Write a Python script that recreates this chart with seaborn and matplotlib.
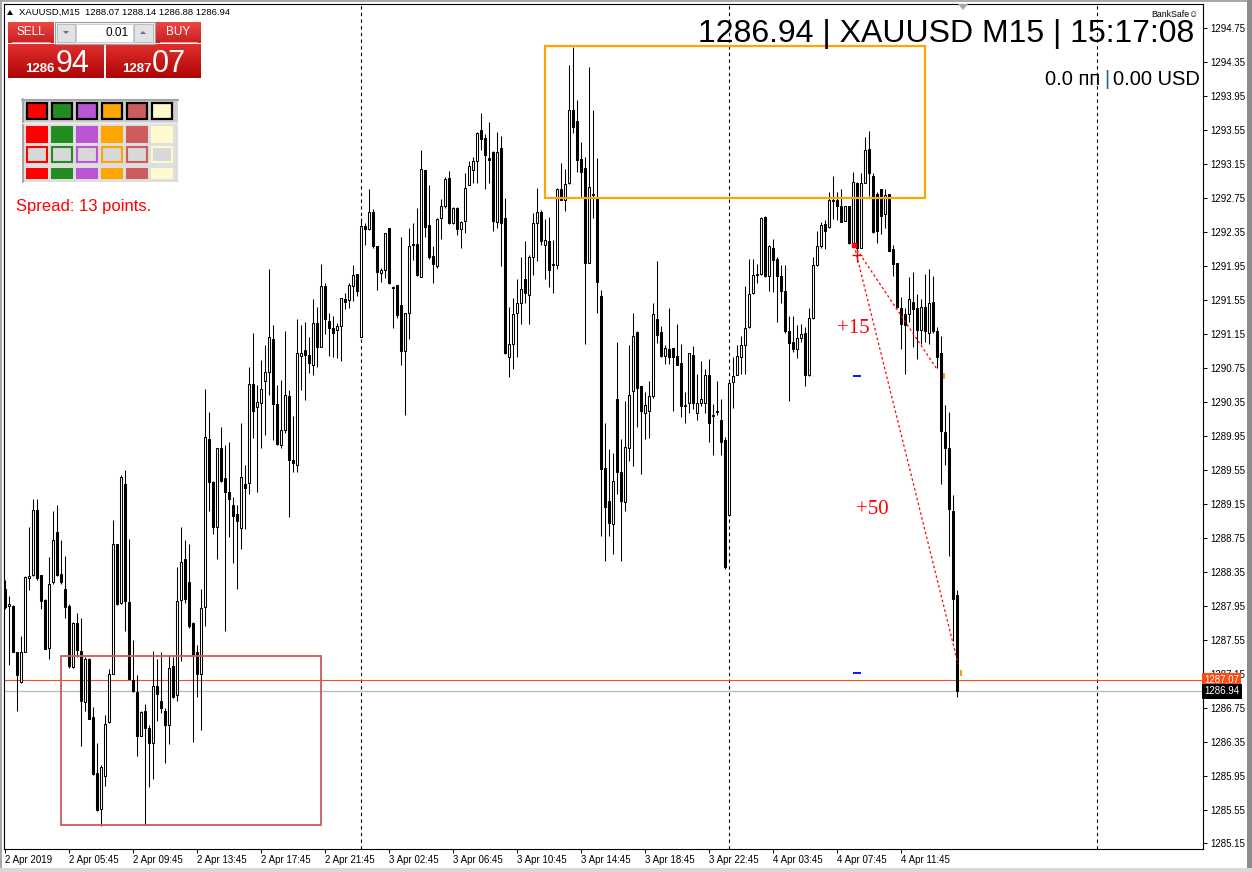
import numpy as np
import pandas as pd
import matplotlib
matplotlib.use("Agg")
import matplotlib.pyplot as plt
import seaborn as sns
from matplotlib.patches import Rectangle, Polygon
from matplotlib.transforms import Affine2D, blended_transform_factory
from matplotlib.colors import LinearSegmentedColormap

# ---------------- data (XAUUSD M15) ----------------
opens = [
    1288.15, 1287.95, 1287.95, 1287.41, 1287.05, 1287.40, 1288.27, 1288.31, 1289.08, 1288.31,
    1288.02, 1287.45, 1288.23, 1288.82, 1288.32, 1288.15, 1287.95, 1287.23, 1287.75, 1287.42,
    1286.82, 1287.32, 1286.64, 1285.98, 1285.56, 1285.95, 1286.58, 1287.14, 1288.68, 1287.98,
    1289.38, 1287.99, 1287.08, 1286.93, 1286.42, 1286.71, 1286.51, 1286.33, 1287.00, 1286.83,
    1286.71, 1286.54, 1287.24, 1286.90, 1288.02, 1288.50, 1288.23, 1287.75, 1287.41, 1287.15,
    1287.93, 1289.91, 1289.41, 1288.87, 1289.80, 1289.45, 1289.29, 1289.13, 1289.03, 1288.86,
    1289.38, 1289.39, 1290.56, 1290.29, 1290.34, 1290.59, 1290.70, 1291.09, 1290.32, 1289.84,
    1290.02, 1290.42, 1289.67, 1289.61, 1290.89, 1290.96, 1290.90, 1290.78, 1291.28, 1291.00,
    1291.71, 1291.30, 1291.22, 1291.19, 1291.24, 1291.56, 1291.55, 1291.71, 1291.85, 1291.11,
    1292.42, 1292.38, 1292.58, 1292.18, 1291.87, 1291.90, 1292.40, 1291.70, 1291.72, 1291.49,
    1290.95, 1291.39, 1292.21, 1292.21, 1291.82, 1293.08, 1292.43, 1292.07, 1291.95, 1292.51,
    1292.65, 1292.98, 1292.46, 1292.63, 1292.38, 1292.48, 1292.90, 1293.08, 1293.18, 1293.55,
    1293.46, 1293.22, 1293.29, 1292.47, 1293.34, 1292.51, 1290.88, 1291.03, 1291.39, 1291.51,
    1291.79, 1291.61, 1292.05, 1292.45, 1292.59, 1292.20, 1292.24, 1291.96, 1291.96, 1292.86,
    1292.73, 1292.92, 1293.78, 1293.65, 1293.21, 1293.10, 1291.98, 1292.79, 1292.76, 1291.59,
    1289.57, 1289.18, 1288.91, 1290.38, 1289.52, 1289.17, 1289.81, 1290.48, 1291.17, 1290.53,
    1290.22, 1290.24, 1290.42, 1291.32, 1291.17, 1290.89, 1290.97, 1290.98, 1290.89, 1290.81,
    1290.30, 1290.34, 1290.90, 1290.22, 1290.33, 1290.33, 1290.67, 1290.18, 1290.23, 1290.14,
    1289.90, 1289.02, 1290.58, 1290.66, 1290.88, 1291.02, 1291.23, 1291.63, 1291.84, 1291.85,
    1292.53, 1291.83, 1292.16, 1292.03, 1291.83, 1291.66, 1291.18, 1291.05, 1290.97, 1291.10,
    1291.16, 1290.66, 1291.34, 1291.96, 1292.18, 1292.44, 1292.41, 1292.71, 1292.72, 1292.65,
    1292.48, 1292.66, 1292.21, 1292.93, 1292.16, 1292.92, 1293.33, 1293.01, 1292.80, 1292.85,
    1292.56, 1292.80, 1292.15, 1291.98, 1291.45, 1291.38, 1291.38, 1291.53, 1291.45, 1291.19,
    1291.46, 1291.16, 1291.52, 1291.18, 1290.92, 1290.00, 1289.81, 1289.06, 1288.07,
]
highs = [
    1288.25, 1288.06, 1287.96, 1287.41, 1287.59, 1288.30, 1288.87, 1289.20, 1289.20, 1288.31,
    1288.03, 1288.52, 1289.06, 1289.13, 1288.72, 1288.54, 1287.97, 1287.76, 1287.86, 1287.81,
    1287.35, 1287.33, 1286.76, 1286.33, 1286.07, 1286.66, 1287.20, 1288.96, 1288.68, 1289.49,
    1289.55, 1288.73, 1287.54, 1287.13, 1286.71, 1286.79, 1286.54, 1287.42, 1287.32, 1287.40,
    1286.74, 1287.37, 1287.35, 1288.40, 1288.87, 1288.72, 1288.67, 1287.76, 1287.49, 1288.15,
    1290.50, 1290.23, 1289.42, 1289.81, 1290.05, 1289.84, 1289.88, 1289.23, 1289.13, 1290.10,
    1289.61, 1290.76, 1291.16, 1290.55, 1290.84, 1291.02, 1291.91, 1291.25, 1290.55, 1290.61,
    1291.18, 1290.49, 1290.18, 1291.33, 1291.25, 1291.29, 1291.11, 1291.56, 1291.47, 1291.97,
    1291.75, 1291.39, 1291.36, 1291.28, 1291.57, 1291.63, 1291.75, 1291.96, 1291.86, 1292.51,
    1292.46, 1292.86, 1292.62, 1292.18, 1291.93, 1292.34, 1292.40, 1291.71, 1291.72, 1292.29,
    1291.39, 1292.40, 1292.46, 1292.63, 1293.32, 1293.08, 1292.90, 1292.18, 1292.51, 1292.74,
    1293.00, 1293.07, 1292.64, 1292.64, 1292.48, 1293.04, 1293.18, 1293.23, 1293.53, 1293.75,
    1293.50, 1293.64, 1293.30, 1293.53, 1293.48, 1292.75, 1291.47, 1291.57, 1291.79, 1292.06,
    1292.24, 1292.08, 1292.57, 1292.87, 1292.61, 1292.50, 1292.52, 1292.25, 1292.87, 1293.16,
    1293.09, 1294.32, 1294.53, 1293.90, 1293.41, 1293.23, 1294.29, 1293.79, 1293.22, 1291.67,
    1290.10, 1289.79, 1289.75, 1291.05, 1289.91, 1290.36, 1291.02, 1291.40, 1291.18, 1290.53,
    1290.46, 1290.60, 1291.51, 1292.01, 1291.24, 1291.02, 1291.45, 1290.98, 1291.26, 1291.03,
    1290.46, 1290.92, 1291.01, 1290.68, 1290.83, 1290.74, 1290.85, 1290.32, 1290.59, 1290.38,
    1289.93, 1290.57, 1290.88, 1291.02, 1291.12, 1291.71, 1292.03, 1292.03, 1291.97, 1292.53,
    1292.54, 1292.19, 1292.27, 1292.05, 1291.96, 1291.96, 1291.36, 1291.36, 1291.25, 1291.27,
    1291.23, 1291.45, 1292.05, 1292.36, 1292.47, 1292.49, 1292.82, 1293.01, 1292.82, 1292.85,
    1292.65, 1292.66, 1293.06, 1292.94, 1293.04, 1293.47, 1293.54, 1293.04, 1292.82, 1292.85,
    1292.85, 1292.80, 1292.19, 1291.98, 1291.58, 1291.45, 1291.82, 1291.88, 1291.62, 1291.56,
    1291.85, 1291.91, 1291.83, 1291.23, 1291.12, 1290.31, 1290.23, 1289.25, 1288.14,
]
lows = [
    1287.91, 1287.25, 1287.40, 1286.71, 1287.04, 1287.40, 1288.13, 1288.30, 1288.25, 1287.91,
    1287.44, 1287.32, 1288.20, 1288.30, 1288.20, 1287.81, 1287.22, 1287.22, 1287.35, 1286.30,
    1286.71, 1286.61, 1285.96, 1285.53, 1285.36, 1285.83, 1286.57, 1287.14, 1287.96, 1287.97,
    1287.65, 1287.09, 1286.93, 1286.18, 1286.41, 1285.37, 1285.81, 1285.91, 1286.59, 1286.69,
    1286.10, 1286.32, 1286.86, 1286.83, 1287.30, 1287.98, 1287.69, 1286.35, 1286.88, 1286.49,
    1287.71, 1289.07, 1288.79, 1288.50, 1289.40, 1287.65, 1288.76, 1288.45, 1288.15, 1288.62,
    1288.85, 1289.26, 1289.92, 1289.29, 1289.80, 1289.96, 1290.43, 1289.90, 1289.84, 1289.80,
    1289.98, 1288.99, 1289.52, 1289.52, 1290.49, 1290.37, 1290.69, 1290.66, 1290.76, 1290.99,
    1291.15, 1290.89, 1290.88, 1290.87, 1290.83, 1291.44, 1291.45, 1291.54, 1291.60, 1291.11,
    1292.19, 1292.37, 1292.16, 1291.67, 1291.76, 1291.81, 1291.74, 1291.22, 1291.34, 1290.78,
    1290.20, 1291.09, 1292.02, 1291.83, 1291.82, 1292.29, 1292.03, 1291.75, 1291.92, 1292.27,
    1292.63, 1292.44, 1292.44, 1292.31, 1292.16, 1292.34, 1292.90, 1292.93, 1292.93, 1293.31,
    1292.86, 1292.92, 1292.36, 1292.40, 1291.95, 1290.91, 1290.64, 1290.74, 1290.88, 1291.27,
    1291.51, 1291.26, 1291.84, 1292.01, 1292.20, 1291.79, 1291.70, 1291.63, 1291.91, 1292.73,
    1292.60, 1292.91, 1293.52, 1293.06, 1292.75, 1291.03, 1291.98, 1292.51, 1291.39, 1288.77,
    1288.47, 1288.77, 1288.56, 1289.27, 1288.47, 1289.07, 1289.65, 1289.59, 1290.05, 1289.50,
    1289.91, 1289.92, 1290.40, 1291.04, 1290.88, 1290.80, 1290.80, 1290.24, 1290.78, 1290.17,
    1290.10, 1290.22, 1290.27, 1290.14, 1290.30, 1290.22, 1289.88, 1289.72, 1290.20, 1289.72,
    1288.38, 1289.01, 1290.28, 1290.66, 1290.68, 1290.68, 1291.22, 1291.62, 1291.75, 1291.84,
    1291.82, 1291.66, 1291.64, 1291.29, 1291.51, 1291.16, 1290.36, 1290.94, 1290.86, 1291.05,
    1290.54, 1290.65, 1291.32, 1291.95, 1292.16, 1292.15, 1292.40, 1292.50, 1292.49, 1292.47,
    1292.48, 1292.21, 1292.19, 1291.99, 1292.16, 1292.92, 1292.77, 1292.34, 1292.22, 1292.32,
    1292.40, 1292.13, 1291.83, 1291.45, 1290.97, 1290.68, 1291.29, 1290.99, 1290.85, 1291.03,
    1291.05, 1291.03, 1291.16, 1290.75, 1289.38, 1289.60, 1288.53, 1287.53, 1286.88,
]
closes = [
    1287.93, 1287.97, 1287.41, 1287.13, 1287.41, 1288.29, 1288.30, 1289.08, 1288.28, 1288.00,
    1287.44, 1288.20, 1288.72, 1288.31, 1288.23, 1287.93, 1287.24, 1287.75, 1287.43, 1286.83,
    1287.32, 1286.62, 1285.97, 1285.54, 1286.05, 1286.56, 1287.14, 1288.68, 1287.97, 1289.47,
    1288.01, 1287.09, 1286.95, 1286.42, 1286.70, 1286.51, 1286.33, 1287.00, 1286.91, 1286.74,
    1286.54, 1287.22, 1286.88, 1288.01, 1288.46, 1288.03, 1287.71, 1287.37, 1287.14, 1287.92,
    1289.94, 1289.41, 1288.87, 1289.81, 1289.42, 1289.29, 1289.20, 1289.00, 1288.95, 1289.46,
    1289.34, 1290.56, 1290.24, 1290.35, 1290.50, 1290.70, 1291.11, 1290.32, 1289.85, 1290.02,
    1290.43, 1289.67, 1289.63, 1290.92, 1290.93, 1290.90, 1290.81, 1291.28, 1290.99, 1291.71,
    1291.33, 1291.22, 1291.16, 1291.24, 1291.57, 1291.53, 1291.73, 1291.84, 1291.65, 1292.42,
    1292.38, 1292.58, 1292.18, 1291.88, 1291.90, 1292.34, 1291.75, 1291.69, 1291.37, 1290.95,
    1291.39, 1292.18, 1292.19, 1291.84, 1293.09, 1292.41, 1292.05, 1291.97, 1292.50, 1292.65,
    1292.97, 1292.45, 1292.63, 1292.38, 1292.47, 1292.87, 1293.12, 1293.18, 1293.52, 1293.44,
    1293.26, 1293.20, 1292.48, 1293.29, 1292.46, 1290.92, 1291.03, 1291.38, 1291.51, 1291.68,
    1291.63, 1292.06, 1292.45, 1292.59, 1292.24, 1292.25, 1291.90, 1291.96, 1292.86, 1292.73,
    1292.91, 1293.78, 1293.58, 1293.20, 1293.06, 1291.98, 1292.88, 1292.80, 1291.76, 1289.56,
    1289.11, 1288.92, 1289.42, 1289.52, 1289.18, 1289.82, 1290.43, 1291.12, 1290.51, 1290.24,
    1290.31, 1290.42, 1291.38, 1291.14, 1290.89, 1290.98, 1290.88, 1290.88, 1290.78, 1290.30,
    1290.30, 1290.92, 1290.33, 1290.33, 1290.38, 1290.67, 1290.10, 1290.20, 1290.23, 1289.88,
    1288.40, 1290.57, 1290.65, 1290.89, 1291.02, 1291.22, 1291.62, 1291.84, 1291.84, 1292.51,
    1291.83, 1292.18, 1292.02, 1291.83, 1291.66, 1291.18, 1291.04, 1290.97, 1291.10, 1291.15,
    1290.66, 1291.34, 1291.96, 1292.18, 1292.43, 1292.36, 1292.72, 1292.73, 1292.65, 1292.47,
    1292.65, 1292.22, 1292.94, 1292.16, 1292.92, 1293.32, 1293.04, 1292.35, 1292.36, 1292.54,
    1292.78, 1292.13, 1291.97, 1291.46, 1291.27, 1291.25, 1291.56, 1291.44, 1291.19, 1291.46,
    1291.18, 1291.51, 1291.18, 1290.88, 1290.01, 1289.81, 1289.09, 1288.03, 1286.94,
]

time_labels = ["2 Apr 2019", "2 Apr 05:45", "2 Apr 09:45", "2 Apr 13:45", "2 Apr 17:45",
               "2 Apr 21:45", "3 Apr 02:45", "3 Apr 06:45", "3 Apr 10:45", "3 Apr 14:45",
               "3 Apr 18:45", "3 Apr 22:45", "4 Apr 03:45", "4 Apr 07:45", "4 Apr 11:45"]
time_label_bars = [0, 16, 32, 48, 64, 80, 96, 112, 128, 144, 160, 176, 192, 208, 224]
day_separator_bars = [89, 181, 273]
price_ticks = [1294.75, 1294.35, 1293.95, 1293.55, 1293.15, 1292.75, 1292.35, 1291.95,
               1291.55, 1291.15, 1290.75, 1290.35, 1289.95, 1289.55, 1289.15, 1288.75,
               1288.35, 1287.95, 1287.55, 1287.15, 1286.75, 1286.35, 1285.95, 1285.55,
               1285.15]
bid_price = 1286.94
ask_price = 1287.07
resistance_zone = [135, 230, 1292.75, 1294.54]   # bar from, bar to, price low, price high
support_zone = [14, 79, 1285.37, 1287.36]
trend_start = [212.3, 1292.19]
trend_end_15 = [232.9, 1290.74]
trend_end_50 = [238.3, 1287.26]
target_marks_x = [213, 213]
target_marks_y = [1290.65, 1287.16]
palette_colors = ["#FF0000", "#228B22", "#BA55D3", "#FFA500", "#CD5C5C", "#FFFACD"]

# ---------------- figure ----------------
sns.set_theme(style="white")
plt.rcParams['font.family'] = ['Liberation Sans', 'DejaVu Sans']

W, H = 1252, 872
fig = plt.figure(figsize=(W / 100, H / 100), dpi=100)
fig.patch.set_facecolor('white')
PX = Affine2D().scale(1, -1).translate(0, H)   # pixel coords, origin top-left

ax = fig.add_axes([4 / W, 1 - 849 / H, 1199 / W, 845 / H])
ax.set_facecolor('white')
ax.set_xlim(-0.25, 299.5)
ax.set_ylim(1285.085, 1295.033)

df = pd.DataFrame({'open': opens, 'high': highs, 'low': lows, 'close': closes})
df['bar'] = np.arange(len(df))
df['top'] = df[['open', 'close']].max(axis=1)
df['bottom'] = df[['open', 'close']].min(axis=1)
df['high'] = df[['high', 'top']].max(axis=1)
df['low'] = df[['low', 'bottom']].min(axis=1)
df['up'] = df['close'] >= df['open']

ax.vlines(df['bar'], df['low'], df['high'], color='black', lw=0.75, zorder=2)
heights = np.maximum(df['top'] - df['bottom'], 0.012)
ax.bar(df['bar'], heights, bottom=df['bottom'], width=0.55,
       color=np.where(df['up'], 'white', 'black'), edgecolor='black',
       linewidth=0.75, zorder=3)

# day separators
for b in day_separator_bars:
    ax.axvline(b, color='black', lw=0.8, ls=(0, (3, 3)), zorder=1)

# zones
ax.add_patch(Rectangle((resistance_zone[0], resistance_zone[2]),
                       resistance_zone[1] - resistance_zone[0],
                       resistance_zone[3] - resistance_zone[2],
                       fill=False, edgecolor='#FFA500', lw=1.6, zorder=4))
ax.add_patch(Rectangle((support_zone[0], support_zone[2]),
                       support_zone[1] - support_zone[0],
                       support_zone[3] - support_zone[2],
                       fill=False, edgecolor='#CD5C5C', lw=1.3, zorder=4))

# bid / ask lines
ax.axhline(ask_price, color='#F0501E', lw=0.8, zorder=1.5)
ax.axhline(bid_price, color='#BDBDBD', lw=1.0, zorder=1.5)

# trend lines and labels
for end in (trend_end_15, trend_end_50):
    ax.plot([trend_start[0], end[0]], [trend_start[1], end[1]],
            color='red', lw=0.9, ls=(0, (2, 2)), zorder=5)
ax.plot([trend_start[0]], [trend_start[1]], marker='s', ms=2.5, color='red', zorder=6)
ax.plot([213.0], [1292.08], marker='+', ms=7, mew=1.0, color='red', zorder=6)
sns.scatterplot(x=target_marks_x, y=target_marks_y, marker='_', color='blue',
                s=28, linewidth=1.3, ax=ax, zorder=6, legend=False)
ax.plot([234.75, 238.9], [1290.65, 1287.16], ls='none', marker='|', ms=4,
        mew=1.5, color='#E8A317', zorder=6)
ax.text(212.0, 1291.21, "+15", color='red', fontsize=15, family='Liberation Serif',
        ha='center', va='center', zorder=6)
ax.text(216.75, 1289.08, "+50", color='red', fontsize=15, family='Liberation Serif',
        ha='center', va='center', zorder=6)

# axes styling
for s in ax.spines.values():
    s.set_color('black')
    s.set_linewidth(0.8)
ax.grid(False)
ax.set_yticks(price_ticks)
ax.set_yticklabels([f"{v:.2f}" for v in price_ticks])
ax.yaxis.set_ticks_position('right')
ax.tick_params(axis='y', which='both', direction='out', length=3, width=0.7, pad=2.5,
               labelsize=7, colors='black', left=False, right=True,
               labelleft=False, labelright=True)
ax.set_xticks(time_label_bars)
ax.set_xticklabels(time_labels)
ax.tick_params(axis='x', direction='out', length=3, width=0.7, pad=1.5,
               labelsize=7, colors='black', bottom=True, top=False)
for lab in ax.get_xticklabels():
    lab.set_ha('left')

# price labels on the right axis
bt = blended_transform_factory(ax.transAxes, ax.transData)
ax.text(1.0012, ask_price, "1287.07", transform=bt, color='white', fontsize=7,
        ha='left', va='center', zorder=10, clip_on=False,
        bbox=dict(boxstyle='square,pad=0.22', fc='#FF4A12', ec='none'))
ax.text(1.0012, bid_price, "1286.94", transform=bt, color='white', fontsize=7,
        ha='left', va='center', zorder=10, clip_on=False,
        bbox=dict(boxstyle='square,pad=0.22', fc='black', ec='none'))

# ---------------- overlay widgets (pixel coordinates) ----------------
def rect(x0, y0, x1, y1, **kw):
    fig.add_artist(Rectangle((x0, y0), x1 - x0, y1 - y0, transform=PX, **kw))

def grad_box(x0, y0, x1, y1, c_top, c_bot):
    a = fig.add_axes([x0 / W, 1 - y1 / H, (x1 - x0) / W, (y1 - y0) / H])
    cmap = LinearSegmentedColormap.from_list('g', [c_top, c_bot])
    a.imshow(np.linspace(0, 1, 64).reshape(-1, 1), aspect='auto', cmap=cmap,
             extent=[0, 1, 0, 1])
    a.set_axis_off()

def ftext(x, y, s, **kw):
    return fig.text(x, y, s, transform=PX, **kw)

# window borders
rect(0, 0, 2, H, facecolor='#A8A8A8', edgecolor='none')
rect(0, 0, W, 1.5, facecolor='#A8A8A8', edgecolor='none')
rect(1247, 0, W, H, facecolor='#8C8C8C', edgecolor='none')
rect(0, 868, W, H, facecolor='#D8D8D8', edgecolor='none')

# header line
fig.add_artist(Polygon([(7, 15), (13, 15), (10, 10)], closed=True, transform=PX,
                       facecolor='black', edgecolor='none'))
ftext(19, 12.5, "XAUUSD,M15  1288.07 1288.14 1286.88 1286.94", fontsize=6.8,
      va='center', ha='left', color='black')

# SELL / BUY panel
grad_box(8, 22, 54, 43, '#EE4A44', '#C81E22')
grad_box(156, 22, 201, 43, '#EE4A44', '#C81E22')
fig.add_artist(plt.Line2D([12, 50], [42, 42], transform=PX, color='#F39A96', lw=0.8))
fig.add_artist(plt.Line2D([160, 197], [42, 42], transform=PX, color='#F39A96', lw=0.8))
ftext(31, 32, "SELL", color='white', fontsize=8.5, ha='center', va='center')
ftext(178.5, 32, "BUY", color='white', fontsize=8.5, ha='center', va='center')
rect(55, 22, 155, 44, facecolor='#F0F0F0', edgecolor='#A0A0A0', lw=0.8)
rect(57, 24, 75, 42, facecolor='#E2E2E2', edgecolor='#B4B4B4', lw=0.6)
rect(76, 24, 133, 42, facecolor='white', edgecolor='#C8C8C8', lw=0.6)
rect(134, 24, 153, 42, facecolor='#E2E2E2', edgecolor='#B4B4B4', lw=0.6)
fig.add_artist(Polygon([(63, 31), (69, 31), (66, 34)], closed=True, transform=PX,
                       facecolor='#5570A8', edgecolor='none'))
fig.add_artist(Polygon([(140, 34), (146, 34), (143, 31)], closed=True, transform=PX,
                       facecolor='#5570A8', edgecolor='none'))
ftext(129, 32.5, "0.01", color='black', fontsize=8.5, ha='right', va='center')

grad_box(8, 44, 104, 78, '#E23030', '#B00404')
grad_box(106, 44, 201, 78, '#E23030', '#B00404')
ftext(25, 72, "1286", color='white', fontsize=9.5, fontweight='bold', ha='left',
      va='baseline')
ftext(56, 72, "94", color='white', fontsize=22, ha='left', va='baseline')
ftext(122, 72, "1287", color='white', fontsize=9.5, fontweight='bold', ha='left',
      va='baseline')
ftext(152, 72, "07", color='white', fontsize=22, ha='left', va='baseline')

# colour palette panel
rect(22, 99, 178, 182, facecolor='#DEDEDE', edgecolor='none')
rect(22, 99, 178, 122, facecolor='#CFCFCF', edgecolor='none')
fig.add_artist(plt.Line2D([22, 178], [99.5, 99.5], transform=PX, color='#A4A4A4', lw=1.5))
fig.add_artist(plt.Line2D([22.5, 22.5], [99, 182], transform=PX, color='#A4A4A4', lw=1.5))
fig.add_artist(plt.Line2D([22, 178], [123, 123], transform=PX, color='#EDEDED', lw=1.0))
for k, c in enumerate(palette_colors):
    x0 = 27 + 25 * k
    rect(x0, 103, x0 + 20, 119, facecolor=c, edgecolor='black', lw=1.6)
    rect(x0 - 1, 126, x0 + 21, 143, facecolor=c, edgecolor='none')
    rect(x0, 147, x0 + 20, 162, facecolor='#D8D8D8', edgecolor=c, lw=1.5)
    rect(x0 - 1, 168, x0 + 21, 179, facecolor=c, edgecolor='none')

ftext(16, 206, "Spread: 13 points.", color='red', fontsize=12, ha='left', va='center')

# top-right info
ftext(1194, 42, "1286.94 | XAUUSD M15 | 15:17:08", color='black', fontsize=23,
      ha='right', va='baseline')
ftext(1198, 17, "BankSafe\u263A", color='black', fontsize=6.3, ha='right',
      va='baseline', family=['Liberation Sans', 'DejaVu Sans'])
fig.add_artist(Polygon([(958, 4), (968, 4), (963, 10)], closed=True, transform=PX,
                       facecolor='#A8A8A8', edgecolor='none'))

renderer = fig.canvas.get_renderer()
t_usd = ftext(1200, 84.5, "0.00 USD", color='black', fontsize=14.5, ha='right',
              va='baseline')
bb = t_usd.get_window_extent(renderer)
t_bar = ftext(bb.x0 - 4, 84.5, "|", color='#1C5FA8', fontsize=14.5, ha='right',
              va='baseline')
bb2 = t_bar.get_window_extent(renderer)
ftext(bb2.x0 - 4, 84.5, "0.0 пп", color='black', fontsize=14.5, ha='right',
      va='baseline')

fig.savefig("out.png", dpi=100, facecolor='white')
